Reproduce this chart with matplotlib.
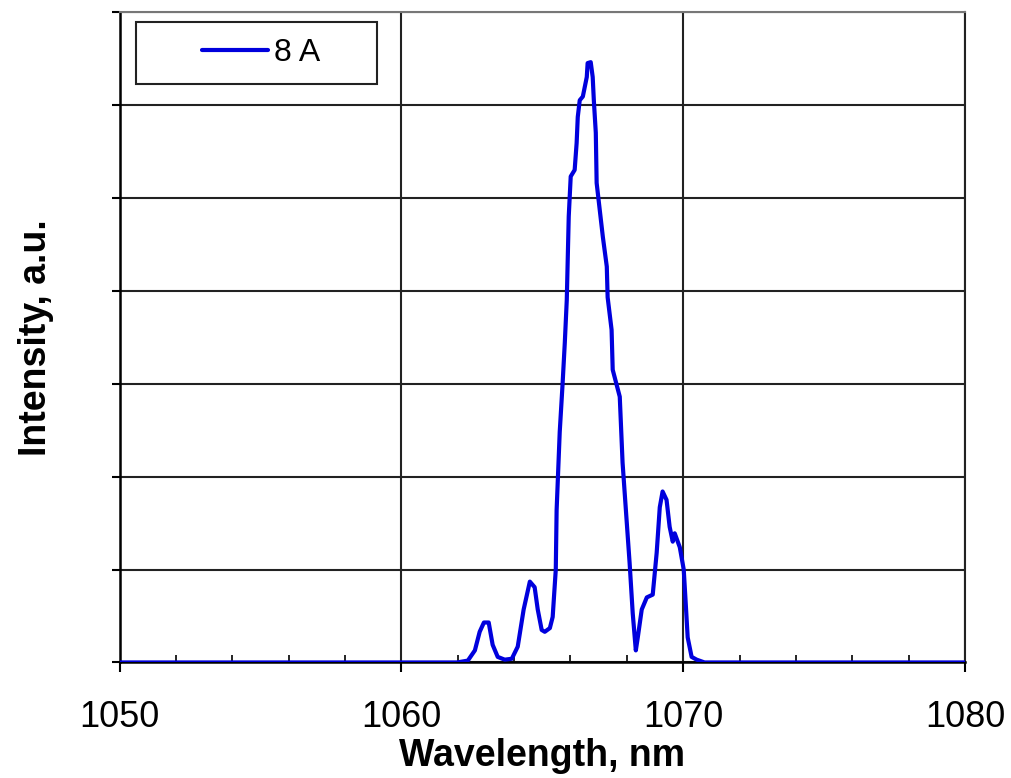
import matplotlib
matplotlib.use("Agg")
import matplotlib.pyplot as plt
from matplotlib.patches import Rectangle
from matplotlib.ticker import MultipleLocator

plt.rcParams['font.family'] = ['Liberation Sans', 'DejaVu Sans']

# Spectrum (8 A)
wavelength = [1050.0, 1061.97, 1062.36, 1062.61, 1062.78, 1062.93, 1063.10, 1063.24,
              1063.42, 1063.67, 1063.92, 1064.13, 1064.34, 1064.56, 1064.73, 1064.84,
              1064.98, 1065.09, 1065.27, 1065.37, 1065.48, 1065.51, 1065.62, 1065.72,
              1065.80, 1065.87, 1065.94, 1066.01, 1066.15, 1066.22, 1066.26, 1066.33,
              1066.44, 1066.58, 1066.61, 1066.72, 1066.79, 1066.83, 1066.90, 1066.93,
              1067.04, 1067.15, 1067.29, 1067.32, 1067.46, 1067.50, 1067.75, 1067.85,
              1068.00, 1068.10, 1068.21, 1068.32, 1068.39, 1068.53, 1068.71, 1068.92,
              1069.06, 1069.17, 1069.27, 1069.41, 1069.52, 1069.63, 1069.70, 1069.88,
              1070.02, 1070.09, 1070.16, 1070.30, 1070.48, 1070.76, 1080.0]
intensity = [0.0, 0.0, 0.02, 0.13, 0.33, 0.43, 0.43, 0.19,
             0.06, 0.03, 0.04, 0.17, 0.57, 0.87, 0.81, 0.57,
             0.35, 0.33, 0.37, 0.49, 1.00, 1.64, 2.48, 2.99,
             3.44, 3.90, 4.80, 5.23, 5.30, 5.59, 5.87, 6.05,
             6.09, 6.30, 6.45, 6.46, 6.30, 6.05, 5.70, 5.16,
             4.87, 4.58, 4.26, 3.93, 3.58, 3.15, 2.86, 2.15,
             1.50, 1.07, 0.53, 0.13, 0.27, 0.57, 0.70, 0.73,
             1.18, 1.67, 1.84, 1.75, 1.46, 1.30, 1.39, 1.24,
             1.00, 0.64, 0.27, 0.06, 0.03, 0.0, 0.0]
series_label = "8 A"
x_ticks = [1050, 1060, 1070, 1080]

fig = plt.figure(figsize=(10.11, 7.78), dpi=100)
ax = fig.add_axes([0.1182, 0.1485, 0.8363, 0.8361])

ax.plot(wavelength, intensity, color='#0000DD', lw=3.0, label=series_label, zorder=3,
        solid_joinstyle='round', solid_capstyle='round')

ax.set_xlim(1050, 1080)
ax.set_ylim(0, 7)
ax.set_xticks(x_ticks)
ax.xaxis.set_minor_locator(MultipleLocator(2))
ax.yaxis.set_major_locator(MultipleLocator(1))
ax.set_yticklabels([])

ax.grid(True, which='major', color='#222222', lw=1.5)
ax.tick_params(axis='x', which='major', direction='out', length=7, width=1.5,
               labelsize=26, pad=20, colors='black')
ax.tick_params(axis='x', which='minor', direction='in', length=5, width=1.2)
ax.tick_params(axis='y', which='major', direction='out', length=6, width=1.5)

for side in ['left', 'bottom']:
    ax.spines[side].set_color('black')
    ax.spines[side].set_linewidth(1.8)
ax.spines['top'].set_color('#777777')
ax.spines['top'].set_linewidth(1.5)
ax.spines['right'].set_color('#222222')
ax.spines['right'].set_linewidth(1.5)

ax.set_xlabel('Wavelength, nm', fontsize=27, fontweight='bold', labelpad=2)
ax.set_ylabel('Intensity, a.u.', fontsize=27, fontweight='bold', labelpad=38)

# legend box
rect = Rectangle((0.0195, 0.8893), 0.285, 0.0953, transform=ax.transAxes,
                 facecolor='white', edgecolor='#222222', lw=1.5, zorder=5)
ax.add_patch(rect)
leg = ax.legend(loc='center', bbox_to_anchor=(0.0195 + 0.285 / 2 + 0.006, 0.8893 + 0.0953 / 2),
                frameon=False, fontsize=23, handlelength=2.05, handletextpad=0.2)
leg.set_zorder(6)

fig.savefig('out.png', dpi=100)
